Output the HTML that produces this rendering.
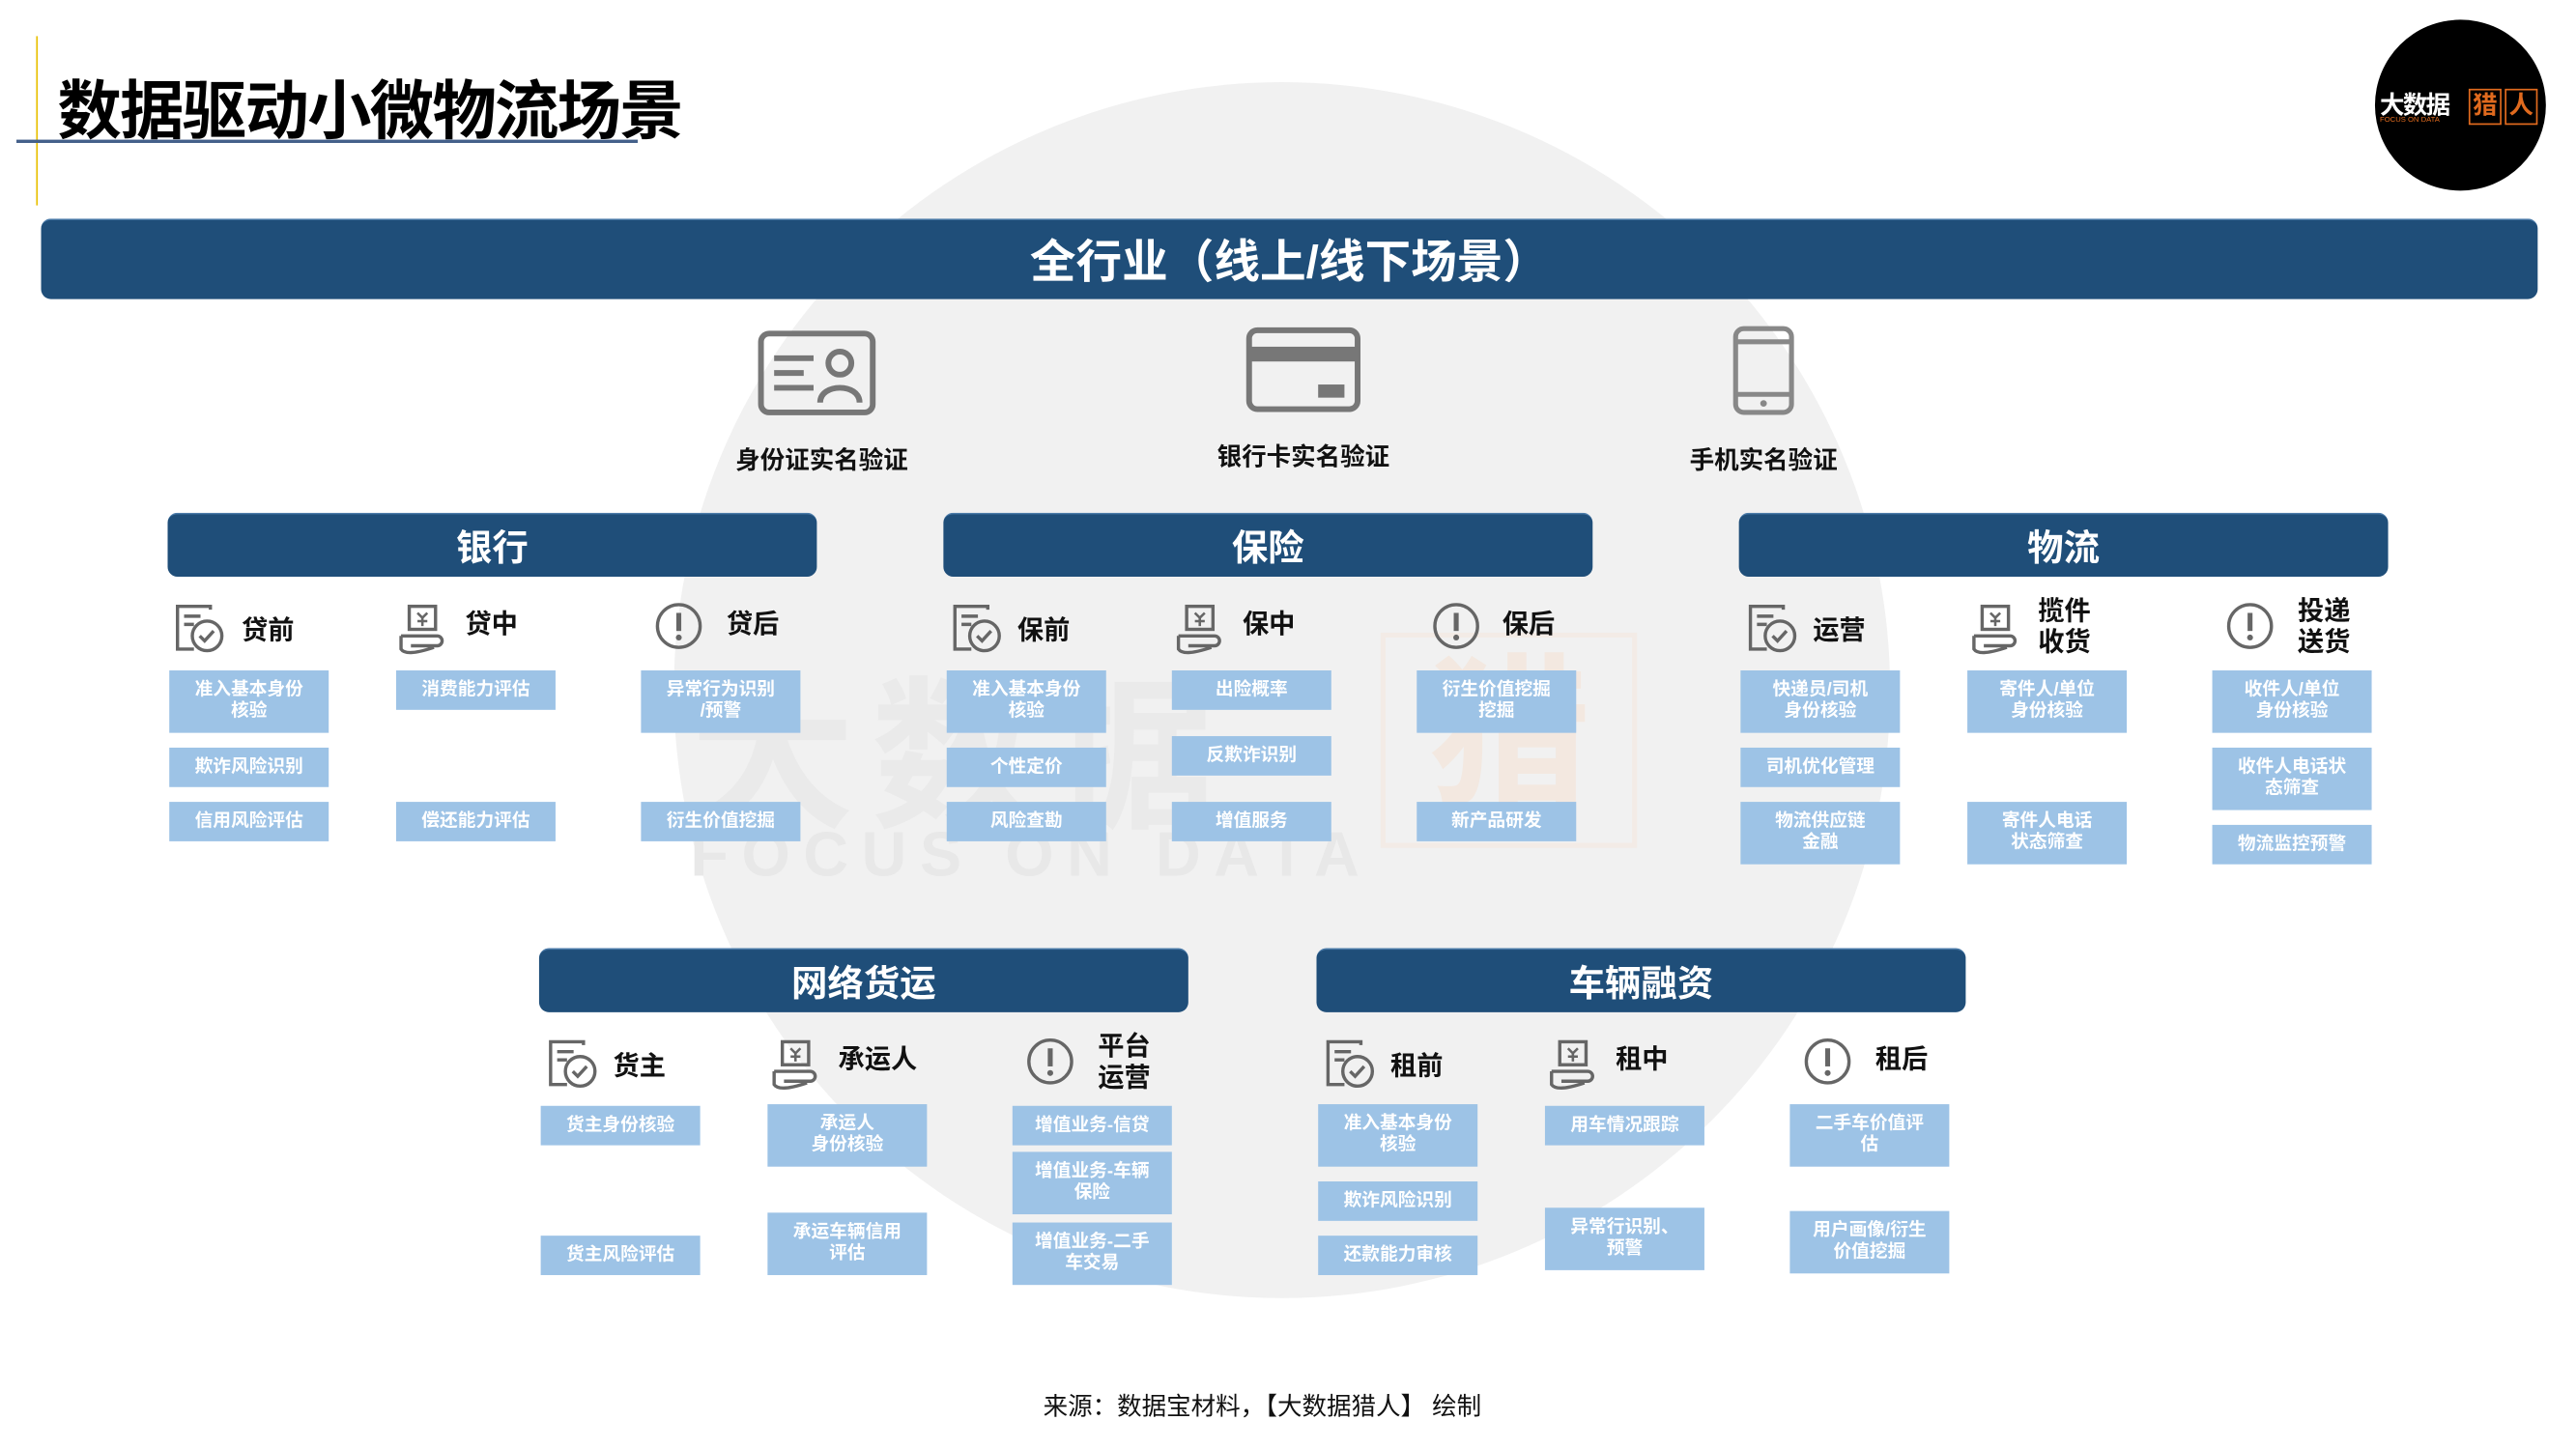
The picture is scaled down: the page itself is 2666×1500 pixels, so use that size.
<!DOCTYPE html>
<html><head><meta charset="utf-8">
<style>
html,body{margin:0;padding:0;background:#fff;}
body{width:2666px;height:1500px;overflow:hidden;position:relative;}
#s{position:absolute;left:0;top:0;width:1570px;height:882px;transform:scale(1.701);transform-origin:0 0;font-family:"Liberation Sans","Noto Sans CJK SC",sans-serif;}
.a{position:absolute;}
.bar{position:absolute;background:#1f4e79;border-radius:6px;color:#fff;font-weight:bold;display:flex;align-items:center;justify-content:center;border-top:1px solid #4a7aa8;}
.bx{position:absolute;width:97px;background:#9dc3e6;color:#fff;font-weight:bold;font-size:11px;line-height:13px;display:flex;align-items:center;justify-content:center;text-align:center;}
.h{position:absolute;font-weight:bold;font-size:16px;color:#111;line-height:19px;}
.lb{position:absolute;font-weight:bold;font-size:15px;color:#111;transform:translateX(-50%);white-space:nowrap;}
svg.i{position:absolute;overflow:visible;}
</style></head><body><div id="s">
<!-- watermark -->
<div class="a" style="left:410px;top:50px;width:740px;height:740px;border-radius:50%;background:#f1f1f1;"></div>
<div class="a" style="left:420px;top:500px;font-size:38px;font-weight:bold;color:#e8e8e8;letter-spacing:8px;">FOCUS ON DATA</div>
<div class="a" style="left:420px;top:380px;font-size:100px;font-weight:bold;color:#eaeaea;letter-spacing:10px;">大数据</div>
<div class="a" style="left:840px;top:385px;width:150px;height:125px;border:3px solid #f3ebe6;color:#f3e8e0;font-size:100px;font-weight:bold;line-height:120px;text-align:center;">猎</div>

<!-- title -->
<div class="a" style="left:22px;top:22px;width:1px;height:103px;background:#e8c000;"></div>
<div class="a" style="left:10px;top:85px;width:378px;height:1.5px;background:#44608a;"></div>
<div class="a" style="left:35px;top:37px;font-size:39px;font-weight:bold;color:#000;letter-spacing:-1px;">数据驱动小微物流场景</div>
<!-- logo -->
<div class="a" style="left:1445px;top:12px;width:104px;height:104px;border-radius:50%;background:#000;"></div>
<div class="a" style="left:1448px;top:53px;color:#fff;font-size:15px;font-weight:bold;letter-spacing:-1px;">大数据</div>
<div class="a" style="left:1448px;top:70px;color:#e06a1e;font-size:4.5px;">FOCUS ON DATA</div>
<div class="a" style="left:1502px;top:54px;width:18px;height:20px;border:1px solid #e06a1e;color:#e06a1e;font-size:15px;font-weight:bold;line-height:20px;text-align:center;">猎</div>
<div class="a" style="left:1524px;top:54px;width:18px;height:20px;border:1px solid #e06a1e;color:#e06a1e;font-size:15px;font-weight:bold;line-height:20px;text-align:center;">人</div>

<div class="bar" style="left:25px;top:133px;width:1519px;height:48px;font-size:28px;">全行业（线上/线下场景）</div>

<!-- top icons -->
<svg class="i" style="left:461px;top:201px" width="72" height="52"><rect x="2" y="2" width="68" height="48" rx="5" fill="none" stroke="#777" stroke-width="3.5"/><path d="M10 17h24M10 26h18M10 35h24" stroke="#777" stroke-width="3.5"/><circle cx="50" cy="20" r="7" fill="none" stroke="#777" stroke-width="3.5"/><path d="M38 44c0-12 24-12 24 0" fill="none" stroke="#777" stroke-width="3.5"/></svg>
<div class="lb" style="left:500px;top:269px;">身份证实名验证</div>
<svg class="i" style="left:758px;top:199px" width="70" height="52"><rect x="2" y="2" width="66" height="48" rx="5" fill="none" stroke="#777" stroke-width="3.5"/><rect x="2" y="12" width="66" height="9" fill="#777"/><rect x="44" y="35" width="16" height="8" fill="#777"/></svg>
<div class="lb" style="left:793px;top:267px;">银行卡实名验证</div>
<svg class="i" style="left:1054px;top:198px" width="38" height="55"><rect x="2" y="2" width="34" height="51" rx="5" fill="none" stroke="#888" stroke-width="3"/><path d="M2 10h34M2 42h34" stroke="#888" stroke-width="3"/><circle cx="19" cy="47.5" r="2" fill="#888"/></svg>
<div class="lb" style="left:1073px;top:269px;">手机实名验证</div>

<svg width="0" height="0" style="position:absolute"><defs>
<g id="doc"><path d="M22 4V2H2v26h10" fill="none" stroke="#666" stroke-width="2"/><path d="M6 8h10M6 13h6" stroke="#666" stroke-width="2"/><circle cx="20" cy="20" r="9" fill="none" stroke="#666" stroke-width="2"/><path d="M15.5 20l3 3 5.5-6" fill="none" stroke="#666" stroke-width="2"/></g>
<g id="hand"><rect x="6" y="1" width="16" height="14" fill="none" stroke="#666" stroke-width="2"/><path d="M11 5l3 3 3-3M14 8v5M11 10h6" fill="none" stroke="#666" stroke-width="1.5"/><path d="M1 19h22a3 3 0 0 1 0 6H7M1 19v8c2 3 8 3 20 -1" fill="none" stroke="#666" stroke-width="2"/></g>
<g id="warn"><ellipse cx="14" cy="14" rx="13" ry="13" fill="none" stroke="#666" stroke-width="2"/><path d="M14 6v11" stroke="#666" stroke-width="3"/><circle cx="14" cy="21" r="1.8" fill="#666"/></g>
</defs></svg>

<!-- 银行 -->
<div class="bar" style="left:102px;top:312px;width:395px;height:38px;font-size:22px;">银行</div>
<svg class="i" style="left:106px;top:367px" width="30" height="30"><use href="#doc"/></svg><div class="h" style="left:147px;top:375px;">贷前</div>
<svg class="i" style="left:243px;top:368px" width="30" height="30"><use href="#hand"/></svg><div class="h" style="left:283px;top:371px;">贷中</div>
<svg class="i" style="left:399px;top:367px" width="30" height="30"><use href="#warn"/></svg><div class="h" style="left:442px;top:371px;">贷后</div>
<div class="bx" style="left:103px;top:408px;height:38px;">准入基本身份<br>核验</div>
<div class="bx" style="left:103px;top:455px;height:24px;">欺诈风险识别</div>
<div class="bx" style="left:103px;top:488px;height:24px;">信用风险评估</div>
<div class="bx" style="left:241px;top:408px;height:24px;">消费能力评估</div>
<div class="bx" style="left:241px;top:488px;height:24px;">偿还能力评估</div>
<div class="bx" style="left:390px;top:408px;height:38px;">异常行为识别<br>/预警</div>
<div class="bx" style="left:390px;top:488px;height:24px;">衍生价值挖掘</div>

<!-- 保险 -->
<div class="bar" style="left:574px;top:312px;width:395px;height:38px;font-size:22px;">保险</div>
<svg class="i" style="left:579px;top:367px" width="30" height="30"><use href="#doc"/></svg><div class="h" style="left:619px;top:375px;">保前</div>
<svg class="i" style="left:716px;top:368px" width="30" height="30"><use href="#hand"/></svg><div class="h" style="left:756px;top:371px;">保中</div>
<svg class="i" style="left:872px;top:367px" width="30" height="30"><use href="#warn"/></svg><div class="h" style="left:914px;top:371px;">保后</div>
<div class="bx" style="left:576px;top:408px;height:38px;">准入基本身份<br>核验</div>
<div class="bx" style="left:576px;top:455px;height:24px;">个性定价</div>
<div class="bx" style="left:576px;top:488px;height:24px;">风险查勘</div>
<div class="bx" style="left:713px;top:408px;height:24px;">出险概率</div>
<div class="bx" style="left:713px;top:448px;height:24px;">反欺诈识别</div>
<div class="bx" style="left:713px;top:488px;height:24px;">增值服务</div>
<div class="bx" style="left:862px;top:408px;height:38px;">衍生价值挖掘<br>挖掘</div>
<div class="bx" style="left:862px;top:488px;height:24px;">新产品研发</div>

<!-- 物流 -->
<div class="bar" style="left:1058px;top:312px;width:395px;height:38px;font-size:22px;">物流</div>
<svg class="i" style="left:1063px;top:367px" width="30" height="30"><use href="#doc"/></svg><div class="h" style="left:1103px;top:375px;">运营</div>
<svg class="i" style="left:1200px;top:368px" width="30" height="30"><use href="#hand"/></svg><div class="h" style="left:1240px;top:363px;">揽件<br>收货</div>
<svg class="i" style="left:1355px;top:367px" width="30" height="30"><use href="#warn"/></svg><div class="h" style="left:1398px;top:363px;">投递<br>送货</div>
<div class="bx" style="left:1059px;top:408px;height:38px;">快递员/司机<br>身份核验</div>
<div class="bx" style="left:1059px;top:455px;height:24px;">司机优化管理</div>
<div class="bx" style="left:1059px;top:488px;height:38px;">物流供应链<br>金融</div>
<div class="bx" style="left:1197px;top:408px;height:38px;">寄件人/单位<br>身份核验</div>
<div class="bx" style="left:1197px;top:488px;height:38px;">寄件人电话<br>状态筛查</div>
<div class="bx" style="left:1346px;top:408px;height:38px;">收件人/单位<br>身份核验</div>
<div class="bx" style="left:1346px;top:455px;height:38px;">收件人电话状<br>态筛查</div>
<div class="bx" style="left:1346px;top:502px;height:24px;">物流监控预警</div>

<!-- 网络货运 -->
<div class="bar" style="left:328px;top:577px;width:395px;height:38px;font-size:22px;">网络货运</div>
<svg class="i" style="left:333px;top:632px" width="30" height="30"><use href="#doc"/></svg><div class="h" style="left:373px;top:640px;">货主</div>
<svg class="i" style="left:470px;top:633px" width="30" height="30"><use href="#hand"/></svg><div class="h" style="left:510px;top:636px;">承运人</div>
<svg class="i" style="left:625px;top:632px" width="30" height="30"><use href="#warn"/></svg><div class="h" style="left:668px;top:628px;">平台<br>运营</div>
<div class="bx" style="left:329px;top:673px;height:24px;">货主身份核验</div>
<div class="bx" style="left:329px;top:752px;height:24px;">货主风险评估</div>
<div class="bx" style="left:467px;top:672px;height:38px;">承运人<br>身份核验</div>
<div class="bx" style="left:467px;top:738px;height:38px;">承运车辆信用<br>评估</div>
<div class="bx" style="left:616px;top:673px;height:24px;">增值业务-信贷</div>
<div class="bx" style="left:616px;top:701px;height:38px;">增值业务-车辆<br>保险</div>
<div class="bx" style="left:616px;top:744px;height:38px;">增值业务-二手<br>车交易</div>

<!-- 车辆融资 -->
<div class="bar" style="left:801px;top:577px;width:395px;height:38px;font-size:22px;">车辆融资</div>
<svg class="i" style="left:806px;top:632px" width="30" height="30"><use href="#doc"/></svg><div class="h" style="left:846px;top:640px;">租前</div>
<svg class="i" style="left:943px;top:633px" width="30" height="30"><use href="#hand"/></svg><div class="h" style="left:983px;top:636px;">租中</div>
<svg class="i" style="left:1098px;top:632px" width="30" height="30"><use href="#warn"/></svg><div class="h" style="left:1141px;top:636px;">租后</div>
<div class="bx" style="left:802px;top:672px;height:38px;">准入基本身份<br>核验</div>
<div class="bx" style="left:802px;top:719px;height:24px;">欺诈风险识别</div>
<div class="bx" style="left:802px;top:752px;height:24px;">还款能力审核</div>
<div class="bx" style="left:940px;top:673px;height:24px;">用车情况跟踪</div>
<div class="bx" style="left:940px;top:735px;height:38px;">异常行识别、<br>预警</div>
<div class="bx" style="left:1089px;top:672px;height:38px;">二手车价值评<br>估</div>
<div class="bx" style="left:1089px;top:737px;height:38px;">用户画像/衍生<br>价值挖掘</div>

<div class="a" style="left:768px;top:845px;transform:translateX(-50%);font-size:15px;color:#111;white-space:nowrap;">来源：数据宝材料，【大数据猎人】 绘制</div>
</div></body></html>
